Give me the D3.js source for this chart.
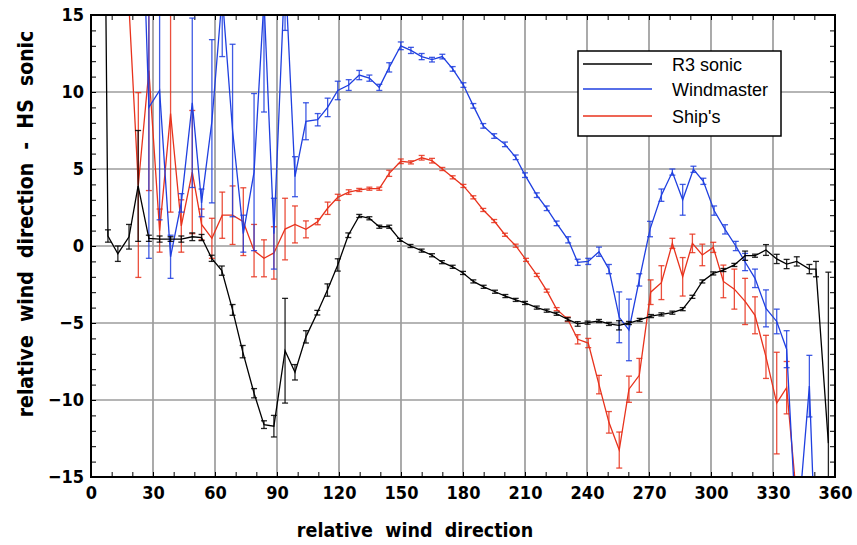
<!DOCTYPE html>
<html><head><meta charset="utf-8">
<script src="https://cdn.jsdelivr.net/npm/d3@7"></script>
<style>
body{margin:0;background:#fff;}
svg{display:block;}
.tick text{font-family:"DejaVu Sans Condensed","DejaVu Sans",sans-serif;font-weight:bold;}
</style></head>
<body><svg id="c" width="857" height="545"></svg>
<script>
// ---------- data ----------
const r3Dir = [3.5,8.2,13,18.4,22.8,28,33.2,38.5,43.7,49,53.5,58.4,63.3,68.5,73.4,78.9,83.7,88.5,93.9,98.7,104,109.5,114.4,119.4,124.5,129.8,134.7,139.5,144.3,149.5,154.6,160,165,169.8,175,180,185,190,195.5,200.5,205.5,210,215.7,220.5,225.3,230.7,235.5,240.3,245.8,250.6,255.5,260.3,265.5,271,276,281.3,286.3,291,295.8,301.1,306,311.3,316.5,321.3,326.6,331.8,336.6,341.5,347.6,350.8,356.8];
const r3Val = [70,0.65,-0.5,0.6,3.9,0.5,0.45,0.45,0.45,0.6,0.55,-0.8,-1.6,-4.15,-6.86,-9.56,-11.6,-11.7,-6.8,-8.2,-5.9,-4.33,-2.86,-1.23,0.7,1.95,1.8,1.25,1.25,0.4,0.0,-0.3,-0.6,-1.05,-1.35,-1.75,-2.3,-2.65,-2.97,-3.25,-3.5,-3.7,-4.0,-4.2,-4.4,-4.76,-5.06,-4.98,-4.87,-5.06,-5.15,-5.0,-4.8,-4.55,-4.44,-4.33,-4.1,-3.3,-2.3,-1.78,-1.56,-1.23,-0.63,-0.63,-0.26,-0.84,-1.17,-1.0,-1.5,-1.5,-12.8];
const r3Err = [0,0.4,0.5,0.8,3.6,0.2,0.2,0.15,0.2,0.25,0.2,0.2,0.3,0.35,0.4,0.3,0.25,0.7,3.4,0.5,0.4,0.15,0.4,0.4,0.15,0.1,0.1,0.1,0.1,0.1,0.1,0.1,0.1,0.1,0.1,0.1,0.1,0.1,0.1,0.1,0.1,0.1,0.1,0.1,0.1,0.1,0.15,0.1,0.1,0.1,0.3,0.1,0.1,0.1,0.1,0.1,0.1,0.1,0.1,0.1,0.1,0.1,0.3,0.1,0.35,0.3,0.3,0.3,0.3,0.5,11.1];

const wmDir = [22.9,28,33.2,38.5,43.7,49,53.5,58.5,63.5,68.5,73.7,78.9,83.7,88.5,93.9,98.7,104,109.7,114.5,119.4,124.7,129.8,134.7,139.5,144.3,149.9,154.8,160,165,170,175,180.2,185,189.8,195.1,200.3,205.5,210,215.7,220.5,225.3,230.9,235.5,240.6,245.8,250.6,255.6,260.3,265.3,270.5,276,281.3,286.3,291.5,296.3,301.5,306.8,312,316.5,321.3,326.6,331.8,336.6,341.5,347.6,352];
const wmVal = [30,9.0,10.1,-0.7,2.8,9.3,2.8,8.1,16.3,7.5,0.8,4.8,16,0.8,18,4.5,8.1,8.2,9.0,10.1,10.45,11.1,10.9,10.3,11.6,13.0,12.7,12.3,12.1,12.3,11.5,10.45,9.1,7.8,7.14,6.6,5.76,4.6,3.3,2.45,1.47,0.4,-1.06,-1.0,-0.37,-1.5,-4.63,-5.45,-2.2,1.1,3.3,4.8,3.0,4.98,4.2,2.3,1.08,0.0,-1.04,-2.1,-4.05,-4.9,-6.7,-19,-9.1,-25];
const wmErr = [0,9.8,8.4,1.4,0.6,5.5,0.9,5.3,4,5.6,1.2,5.1,7.3,2.3,4,1.3,1.2,0.4,0.6,0.6,0.35,0.3,0.2,0.2,0.3,0.25,0.2,0.2,0.15,0.15,0.15,0.15,0.15,0.15,0.15,0.15,0.15,0.15,0.15,0.15,0.15,0.2,0.2,0.2,0.3,0.3,1.65,2.0,0.4,0.5,0.4,0.2,1.0,0.2,0.2,0.3,0.3,0.3,0.56,0.6,1.2,0.8,1.2,0,2.0,0];

const shipDir = [18.4,22.9,28,33.2,38.5,43.7,49,53.5,58.5,63.5,68.5,73.7,78.9,83.7,88.5,93.9,98.7,104,109.7,114.5,119.4,124.7,129.8,134.7,139.5,144.3,149.9,154.8,160,165,170,175,180.2,185,189.8,195.1,200.3,205.5,210.5,215.7,220.5,225.3,230.7,235.5,240.6,245.8,250.6,255.6,260.3,265.3,270.8,276,281.3,286.3,291,295.8,301.1,306,311.3,316.5,321.3,326.6,331.8,336.6,341.5];
const shipVal = [15.5,3.96,11.4,1.0,8.6,1.3,4.8,1.4,0.5,2.0,2.0,1.58,-0.3,-0.8,-0.45,1.1,1.4,1.08,1.58,2.45,3.16,3.5,3.64,3.72,3.72,4.72,5.5,5.43,5.73,5.54,5.0,4.46,3.9,3.16,2.34,1.62,0.73,0.02,-0.9,-1.88,-2.9,-4.1,-4.76,-6.06,-6.3,-9.0,-11.45,-13.25,-9.3,-8.4,-3.0,-2.38,0.17,-2.0,0.17,-0.58,-0.09,-2.3,-2.8,-3.6,-4.5,-7.2,-10.2,-9.2,-16.5];
const shipErr = [0,6.0,7.8,1.4,6.4,1.7,4.0,1.0,1.3,1.5,1.9,2.2,1.7,1.2,1.7,2.0,1.2,0.55,0.2,0.4,0.2,0.15,0.1,0.1,0.1,0.2,0.15,0.1,0.15,0.15,0.1,0.1,0.1,0.1,0.1,0.1,0.1,0.1,0.1,0.1,0.1,0.1,0.15,0.3,0.3,0.6,0.7,1.17,0.85,1.1,0.8,1.1,0.33,1.25,0.6,0.7,0.33,1.06,1.3,1.5,1.2,1.4,3.3,1.7,0];

const xTicks = [0,30,60,90,120,150,180,210,240,270,300,330,360];
const yTicks = [-15,-10,-5,0,5,10,15];
const seriesNames = ["R3 sonic","Windmaster","Ship's"];
const seriesColors = ["#000000","#1f3fe0","#e8321c"];

// ---------- layout ----------
const svg = d3.select("#c");
const L=91, R=835, T=15, B=477;
const x = d3.scaleLinear().domain([0,360]).range([L,R]);
const y = d3.scaleLinear().domain([-15,15]).range([B,T]);

svg.append("defs").append("clipPath").attr("id","clip")
  .append("rect").attr("x",L).attr("y",T).attr("width",R-L).attr("height",B-T);

// grid
const grid = svg.append("g");
grid.selectAll("line.vx").data(xTicks.slice(1,-1)).join("line")
  .attr("x1",d=>x(d)).attr("x2",d=>x(d)).attr("y1",T).attr("y2",B)
  .attr("stroke","#9c9c9c").attr("stroke-width",1.7);
grid.selectAll("line.hy").data(yTicks.slice(1,-1)).join("line")
  .attr("y1",d=>y(d)).attr("y2",d=>y(d)).attr("x1",L).attr("x2",R)
  .attr("stroke","#9c9c9c").attr("stroke-width",1.7);

// axes with inner minor ticks
const minorX = d3.range(0,361,10);
const minorY = d3.range(-15,16,1);
function tickless(g){ g.select(".domain").remove(); }
svg.append("g").attr("transform",`translate(0,${B})`)
  .call(d3.axisBottom(x).tickValues(minorX).tickSize(-5).tickFormat(""))
  .call(tickless).selectAll("line").attr("stroke","#000");
svg.append("g").attr("transform",`translate(0,${T})`)
  .call(d3.axisTop(x).tickValues(minorX).tickSize(-5).tickFormat(""))
  .call(tickless).selectAll("line").attr("stroke","#000");
svg.append("g").attr("transform",`translate(${L},0)`)
  .call(d3.axisLeft(y).tickValues(minorY).tickSize(-5).tickFormat(""))
  .call(tickless).selectAll("line").attr("stroke","#000");
svg.append("g").attr("transform",`translate(${R},0)`)
  .call(d3.axisRight(y).tickValues(minorY).tickSize(-5).tickFormat(""))
  .call(tickless).selectAll("line").attr("stroke","#000");

// labels
const xl = svg.append("g").attr("transform",`translate(0,${B})`)
  .call(d3.axisBottom(x).tickValues(xTicks).tickSize(0).tickPadding(9).tickFormat(d3.format("d")))
  .call(tickless);
xl.selectAll("text").attr("font-size",18).attr("fill","#000");
const yl = svg.append("g").attr("transform",`translate(${L},0)`)
  .call(d3.axisLeft(y).tickValues(yTicks).tickSize(0).tickPadding(7).tickFormat(d3.format("d")))
  .call(tickless);
yl.selectAll("text").attr("font-size",18).attr("fill","#000");

// series
const plot = svg.append("g").attr("clip-path","url(#clip)");
const series = [
  {dir:r3Dir,val:r3Val,err:r3Err},
  {dir:wmDir,val:wmVal,err:wmErr},
  {dir:shipDir,val:shipVal,err:shipErr}
];
const order=[2,1,0];
order.forEach(i=>{
  const s=series[i], c=seriesColors[i];
  const pts = s.dir.map((d,k)=>({d, v:s.val[k], e:s.err[k]}));
  const g = plot.append("g");
  const eb = pts.filter(p=>p.e>0);
  g.selectAll("line.eb").data(eb).join("line")
    .attr("x1",p=>x(p.d)).attr("x2",p=>x(p.d))
    .attr("y1",p=>y(p.v+p.e)).attr("y2",p=>y(p.v-p.e))
    .attr("stroke",c).attr("stroke-width",1.3).attr("opacity",0.85);
  [1,-1].forEach(sg=>{
    g.selectAll("line.cap"+sg).data(eb).join("line")
      .attr("x1",p=>x(p.d)-3).attr("x2",p=>x(p.d)+3)
      .attr("y1",p=>y(p.v+sg*p.e)).attr("y2",p=>y(p.v+sg*p.e))
      .attr("stroke",c).attr("stroke-width",1.3).attr("opacity",0.85);
  });
  g.append("path").datum(pts)
    .attr("d",d3.line().x(p=>x(p.d)).y(p=>y(p.v)))
    .attr("fill","none").attr("stroke",c).attr("stroke-width",1.3);
});

// frame
svg.append("rect").attr("x",L).attr("y",T).attr("width",R-L).attr("height",B-T)
  .attr("fill","none").attr("stroke","#000").attr("stroke-width",2);

// legend
const lg = svg.append("g");
lg.append("rect").attr("x",578).attr("y",51).attr("width",203).attr("height",85)
  .attr("fill","#fff").attr("stroke","#000").attr("stroke-width",1.5);
const legY=[64,89,116];
seriesNames.forEach((n,i)=>{
  lg.append("line").attr("x1",583).attr("x2",652).attr("y1",legY[i]).attr("y2",legY[i])
    .attr("stroke",seriesColors[i]).attr("stroke-width",1.3);
  lg.append("text").attr("x",672).attr("y",legY[i]+7).text(n)
    .attr("font-family","Liberation Sans, Arial, sans-serif").attr("font-size",18);
});

// axis titles
svg.append("text").attr("x",415).attr("y",537).attr("text-anchor","middle")
  .attr("font-family","DejaVu Sans Condensed, DejaVu Sans, sans-serif").attr("font-weight","bold")
  .attr("font-size",19.5).style("white-space","pre")
  .text("relative  wind  direction");
svg.append("text").attr("transform","translate(33,224) rotate(-90)").attr("text-anchor","middle")
  .attr("font-family","DejaVu Sans Condensed, DejaVu Sans, sans-serif").attr("font-weight","bold")
  .attr("font-size",21).style("white-space","pre")
  .text("relative  wind  direction  -  HS  sonic");
</script></body></html>
